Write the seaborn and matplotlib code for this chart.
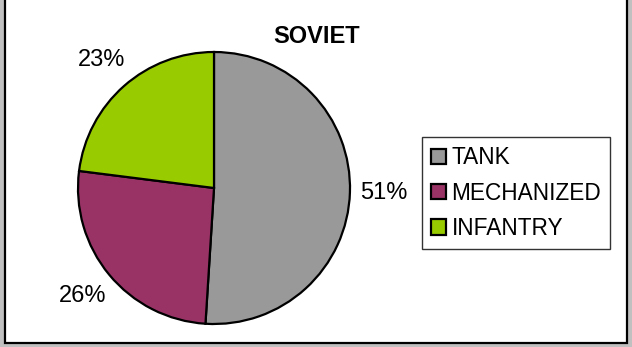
import matplotlib
matplotlib.use("Agg")
import matplotlib.pyplot as plt
from matplotlib.patches import Rectangle
import seaborn as sns

categories = ["TANK", "MECHANIZED", "INFANTRY"]
shares = [51, 26, 23]
colors = ["#999999", "#993366", "#99CC00"]
title = "SOVIET"

sns.set_theme(style="white")
plt.rcParams["font.family"] = ["Liberation Sans", "DejaVu Sans"]
plt.rcParams["text.color"] = "black"

W, H = 632, 347
fig = plt.figure(figsize=(W / 100, H / 100), dpi=100, facecolor="#c0c0c0")
ax = fig.add_axes([0, 0, 1, 1])

# white chart area with a dark frame on the left, right and bottom
ax.add_patch(Rectangle((4.5, 4.5), 622.5, H + 10, facecolor="white",
                       edgecolor="black", linewidth=1.6, zorder=0))

cx, cy, r = 214, H - 188, 136
wedges, texts, autotexts = ax.pie(
    shares, colors=colors, startangle=90, counterclock=False,
    center=(cx, cy), radius=r, frame=True,
    autopct="%1.0f%%", pctdistance=1.25,
    wedgeprops=dict(edgecolor="black", linewidth=1.6),
    textprops=dict(fontsize=17, color="black"),
)
ax.set_xlim(0, W)
ax.set_ylim(0, H)
ax.set_aspect("equal")
ax.axis("off")

ax.text(317, H - 36, title, ha="center", va="center",
        fontsize=17, fontweight="bold", color="black")

leg = ax.legend(wedges, categories, loc="upper left",
                bbox_to_anchor=(422 / W, 1 - 137 / H),
                fontsize=16.3, frameon=True, fancybox=False,
                edgecolor="black", labelcolor="black",
                handlelength=0.65, handleheight=0.65,
                handletextpad=0.25, labelspacing=0.55, borderpad=0.4,
                borderaxespad=0)
leg.get_frame().set_linewidth(1.0)

fig.savefig("out.png", dpi=100, facecolor=fig.get_facecolor())
